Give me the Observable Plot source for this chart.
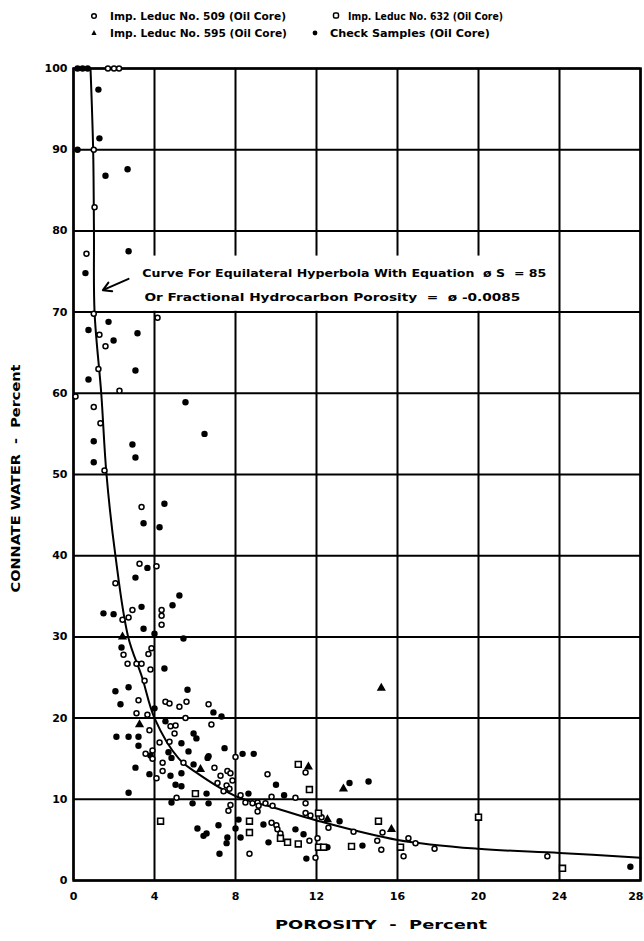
<!DOCTYPE html>
<html>
<head>
<meta charset="utf-8">
<script src="https://cdn.jsdelivr.net/npm/d3@7"></script>
<script src="https://cdn.jsdelivr.net/npm/@observablehq/plot@0.6"></script>
<style>
  html, body { margin: 0; padding: 0; background: #fff; }
  #wrap { width: 644px; position: relative; }
  #legend { display: block; }
  #chart svg { display: block; }
</style>
</head>
<body>
<div id="wrap">
  <svg id="legend" width="644" height="45"></svg>
  <div id="chart"></div>
</div>
<script>
// ---------- Data ----------
const xTicks = [0, 4, 8, 12, 16, 20, 24, 28];
const yTicks = [0, 10, 20, 30, 40, 50, 60, 70, 80, 90, 100];

const legendLabels = [
  "Imp. Leduc No. 509 (Oil Core)",
  "Imp. Leduc No. 632 (Oil Core)",
  "Imp. Leduc No. 595 (Oil Core)",
  "Check Samples (Oil Core)"
];

// Imp. Leduc No. 509 (open circles)
const x509 = [1.7,2.0,2.25,1.0,1.04,0.64,1.0,4.15,1.28,1.58,1.23,2.27,0.1,1.0,1.33,1.53,3.36,3.26,4.1,2.07,2.91,2.72,2.42,4.35,4.35,4.35,2.47,2.67,3.11,3.36,3.7,3.85,3.8,3.51,3.21,4.54,4.74,5.23,5.58,3.11,3.65,6.67,5.53,3.75,4.79,5.04,4.99,4.25,4.74,3.56,3.9,3.9,4.4,4.4,5.43,4.1,5.09,6.81,8.0,6.96,7.26,7.6,7.75,7.11,7.56,7.7,7.41,7.85,7.65,7.75,8.25,8.49,8.84,9.09,9.14,9.48,9.78,9.83,9.58,10.96,11.46,11.46,9.09,8.69,9.78,10.02,10.07,10.22,11.65,11.46,11.7,12.05,11.95,12.25,12.59,13.83,15.26,15.0,16.54,16.89,17.83,15.2,16.3,23.4];
const y509 = [100,100,100,90,82.9,77.2,69.8,69.3,67.2,65.8,63,60.3,59.6,58.3,56.3,50.5,46,39,38.7,36.6,33.3,32.4,32.1,33.3,32.6,31.5,27.8,26.7,26.7,26.7,27.9,28.6,26,24.6,22.2,22,21.8,21.4,22,20.6,20.4,21.7,20,18.5,19,19.1,18.1,17,17.1,15.6,16,15,14.5,13.5,14.5,12.6,10.2,19.2,15.2,13.9,12.9,13.5,13.2,12,11.7,11.3,11,12.3,8.6,9.3,10.5,9.6,9.5,9.6,9.2,9.5,10.3,9.2,13.1,10.2,9.5,13.3,8.5,3.3,7.1,6.8,6.3,5.8,4.9,8.3,8,5.2,2.8,7.8,6.5,6.0,5.9,4.9,5.2,4.6,3.9,3.8,3.0,3.0];

// Imp. Leduc No. 632 (open squares)
const x632 = [6.02,4.3,11.1,11.65,8.69,8.69,10.22,10.57,11.1,12.1,12.1,12.35,15.06,13.73,16.15,20.0,24.15];
const y632 = [10.7,7.3,14.3,11.2,7.3,5.9,5.2,4.7,4.5,8.3,4.1,4.1,7.3,4.2,4.1,7.8,1.5];

// Imp. Leduc No. 595 (filled triangles)
const x595 = [2.42,3.26,6.27,11.6,12.54,15.2,13.33,15.7];
const y595 = [30,19.2,13.7,14,7.5,23.7,11.3,6.3];

// Check samples (filled circles)
const xCheck = [0.2,0.45,0.7,1.23,1.28,0.2,1.58,2.67,2.72,0.59,0.74,1.73,1.98,3.16,3.06,0.74,5.53,6.47,1.0,2.91,3.06,1.0,4.49,3.46,4.25,3.65,3.06,5.23,4.89,3.36,1.48,1.98,3.46,4.0,5.43,2.37,4.49,2.07,2.72,5.63,2.32,4.0,4.54,2.12,2.72,3.21,3.21,5.33,5.93,6.07,4.69,5.68,6.62,3.8,4.84,5.33,5.93,3.06,3.75,4.79,5.04,5.33,6.57,2.72,4.84,5.88,6.12,6.42,6.57,6.91,7.31,7.46,6.67,8.35,8.9,6.67,8.64,10.0,10.4,7.16,8.15,7.6,7.56,7.21,8.0,8.25,9.38,9.63,10.96,11.36,11.5,12.54,13.14,13.63,14.57,14.27,27.5];
const yCheck = [100,100,100,97.4,91.4,90,86.8,87.6,77.5,74.8,67.8,68.8,66.5,67.4,62.8,61.7,58.9,55,54.1,53.7,52.1,51.5,46.4,44,43.5,38.5,37.3,35.1,33.9,33.7,32.9,32.8,31.0,30.4,29.8,28.7,26.1,23.3,23.8,23.5,21.7,21.2,19.6,17.7,17.7,17.7,16.6,16.9,18.1,17.5,15.8,15.9,15.1,15.4,15.1,13.2,14.3,13.9,13.1,12.9,11.8,11.6,10.7,10.8,9.6,9.5,6.4,5.5,5.8,20.7,20.2,16.3,15.3,15.6,15.6,9.5,10.7,11.8,10.5,6.8,7.5,5.3,4.6,3.3,6.4,5.3,6.9,4.7,6.3,5.7,2.7,4.1,7.3,12,12.2,4.3,1.7];

// Hand-drawn hyperbola (phi * S = 85)
const curveX = [0.84,0.97,1.01,1.04,1.37,1.63,2.07,2.7,3.39,4.0,5.2,6.0,8.0,10.0,12.0,16.0,20.0,24.0,28.0];
const curveY = [100,90,80,70,60,50,40,30,25,20,15,13.4,10.4,8.9,7.4,5.0,3.9,3.4,2.8];

// Annotation (data units)
const noteLines = [
  "Curve For Equilateral Hyperbola With Equation  ø S  = 85",
  "Or Fractional Hydrocarbon Porosity  =  ø -0.0085"
];
const noteX = [3.4, 3.5];
const noteY = [74.75, 71.8];
const noteBox = [{x1: 3.25, x2: 23.85, y1: 70.1, y2: 76.9}];
const noteArrow = [{x1: 2.72, y1: 74.1, x2: 1.45, y2: 72.7}];

// ---------- Legend ----------
const FONT = "DejaVu Sans, Liberation Sans, sans-serif";
const leg = d3.select("#legend");
const legItems = [
  {sym: "ocircle", sx: 94, tx: 110, y: 16, w: 176, label: legendLabels[0]},
  {sym: "osquare", sx: 336, tx: 348, y: 16, w: 155, label: legendLabels[1]},
  {sym: "triangle", sx: 94, tx: 110, y: 33, w: 177, label: legendLabels[2]},
  {sym: "fcircle", sx: 315, tx: 330, y: 33, w: 160, label: legendLabels[3]}
];
for (const it of legItems) {
  if (it.sym === "ocircle") leg.append("circle").attr("cx", it.sx).attr("cy", it.y).attr("r", 2.3).attr("fill", "white").attr("stroke", "black").attr("stroke-width", 1.5);
  if (it.sym === "fcircle") leg.append("circle").attr("cx", it.sx).attr("cy", it.y).attr("r", 2.4).attr("fill", "black");
  if (it.sym === "osquare") leg.append("rect").attr("x", it.sx - 2.5).attr("y", it.y - 3).attr("width", 5).attr("height", 5).attr("rx", 1.5).attr("fill", "white").attr("stroke", "black").attr("stroke-width", 1.5);
  if (it.sym === "triangle") leg.append("path").attr("d", `M${it.sx},${it.y - 3}L${it.sx + 2.6},${it.y + 2}L${it.sx - 2.6},${it.y + 2}Z`).attr("fill", "black");
  leg.append("text").attr("x", it.tx).attr("y", it.y).attr("dy", "0.35em")
    .attr("font-family", FONT).attr("font-weight", "bold").attr("font-size", 10.5)
    .attr("textLength", it.w).attr("lengthAdjust", "spacingAndGlyphs")
    .text(it.label);
}

// ---------- Chart ----------
const pts = (xs, ys) => xs.map((x, i) => ({x, y: ys[i]}));
const d509 = pts(x509, y509);
const d632 = pts(x632, y632);
const d595 = pts(x595, y595);
const dCheck = pts(xCheck, yCheck);
const dCurve = pts(curveX, curveY);
const dNote = noteLines.map((t, i) => ({t, x: noteX[i], y: noteY[i]}));

const chart = Plot.plot({
  width: 644,
  height: 896,
  marginTop: 23,
  marginLeft: 73,
  marginRight: 4,
  marginBottom: 61,
  style: {fontFamily: FONT, fontSize: "11px", fontWeight: "bold", color: "black", background: "white"},
  x: {domain: [0, 28], ticks: xTicks},
  y: {domain: [0, 100], ticks: yTicks},
  marks: [
    Plot.gridX(xTicks, {stroke: "black", strokeOpacity: 1, strokeWidth: 2}),
    Plot.gridY(yTicks, {stroke: "black", strokeOpacity: 1, strokeWidth: 2}),
    Plot.rect(noteBox, {x1: "x1", x2: "x2", y1: "y1", y2: "y2", fill: "white"}),
    Plot.frame({stroke: "black", strokeWidth: 2.5}),
    Plot.line(dCurve, {x: "x", y: "y", stroke: "black", strokeWidth: 2, curve: "catmull-rom"}),
    Plot.dot(dCheck, {x: "x", y: "y", r: 3.2, fill: "black", stroke: "none"}),
    Plot.dot(d509, {x: "x", y: "y", r: 2.5, fill: "white", stroke: "black", strokeWidth: 1.5}),
    Plot.dot(d632, {x: "x", y: "y", r: 3.3, symbol: "square", fill: "white", stroke: "black", strokeWidth: 1.6}),
    Plot.dot(d595, {x: "x", y: "y", r: 3.4, symbol: "triangle", fill: "black", stroke: "none"}),
    Plot.text(dNote, {x: "x", y: "y", text: "t", textAnchor: "start", fontSize: 11, fontWeight: "bold", fill: "black"}),
    Plot.arrow(noteArrow, {x1: "x1", y1: "y1", x2: "x2", y2: "y2", stroke: "black", strokeWidth: 2, headLength: 9}),
    Plot.axisX(xTicks, {tickSize: 0, tickPadding: 12, label: "POROSITY  -  Percent", labelAnchor: "center", labelArrow: "none", labelOffset: 48}),
    Plot.axisY(yTicks, {tickSize: 0, tickPadding: 6, label: "CONNATE WATER  -  Percent", labelAnchor: "center", labelArrow: "none", labelOffset: 62})
  ]
});
document.getElementById("chart").appendChild(chart);

// fit annotation lines to the reference widths
const noteWidths = [404, 376];
d3.select(chart).selectAll('g[aria-label="text"] text').each(function(d, i) {
  this.setAttribute("textLength", noteWidths[i]);
  this.setAttribute("lengthAdjust", "spacingAndGlyphs");
});
// axis titles sized as in the reference
d3.select(chart).selectAll('g[aria-label="x-axis label"] text').each(function() {
  this.setAttribute("font-size", 12.5);
  this.setAttribute("textLength", 212);
  this.setAttribute("lengthAdjust", "spacingAndGlyphs");
  this.setAttribute("dx", 24);
});
d3.select(chart).selectAll('g[aria-label="y-axis label"] text').each(function() {
  this.setAttribute("font-size", 12.5);
  this.setAttribute("textLength", 228);
  this.setAttribute("lengthAdjust", "spacingAndGlyphs");
  this.setAttribute("dx", -4);
});
// keep the last x tick label ("28") inside the picture at the right edge
const xLabels = d3.select(chart).selectAll('g[aria-label="x-axis tick label"] text').nodes();
if (xLabels.length) {
  const last = xLabels[xLabels.length - 1];
  last.setAttribute("text-anchor", "end");
  last.setAttribute("dx", 3);
}
</script>
</body>
</html>
